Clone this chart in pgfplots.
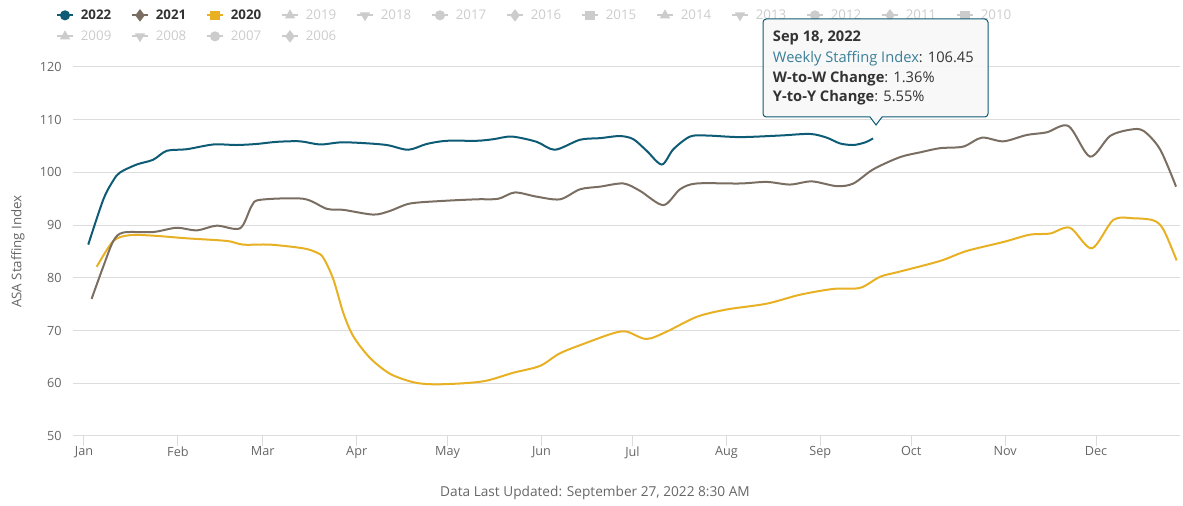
\documentclass[border=0pt]{standalone}
\usepackage{pgfplots}
\pgfplotsset{compat=1.18}
\usepackage{fontspec}
\setmainfont{Open Sans}
\definecolor{c22}{HTML}{0D5B74}
\definecolor{c21}{HTML}{7A6E62}
\definecolor{c20}{HTML}{E8B124}
\definecolor{inact}{HTML}{CCCCCC}
\definecolor{txt}{HTML}{666666}
\definecolor{dark}{HTML}{333333}
\definecolor{gridc}{HTML}{DCDCDC}
\definecolor{tipblue}{HTML}{3A7F97}
\begin{document}
\begin{tikzpicture}
\begin{scope}[x=0.75pt,y=0.75pt]
\useasboundingbox (0,0) rectangle (1183,506);
\end{scope}
\begin{axis}[
  at={(54.75pt,52.5pt)}, anchor=south west,
  scale only axis, width=830.25pt, height=276.75pt,
  xmin=-3.63, xmax=361.7, ymin=50, ymax=120,
  axis x line*=bottom, axis y line*=left,
  x axis line style={draw=gridc, line width=0.75pt, -},
  y axis line style={draw=none},
  xtick={0,31,59,90,120,151,181,212,243,273,304,334},
  xticklabels={Jan,Feb,Mar,Apr,May,Jun,Jul,Aug,Sep,Oct,Nov,Dec},
  ytick={50,60,70,80,90,100,110,120},
  ymajorgrids, grid style={draw=gridc, line width=0.75pt},
  tick align=outside, major tick length=7.5pt,
  xtick style={draw=gridc, line width=0.75pt},
  ytick style={draw=none},
  ticklabel style={font=\fontsize{9.5}{11}\selectfont, text=txt},
  xticklabel style={yshift=3pt},
  yticklabel style={xshift=2.5pt},
  /pgf/number format/assume math mode=true,
  ylabel={ASA Staffing Index},
  ylabel style={at={(axis description cs:-0.0497,0.5)}, anchor=center, font=\fontsize{10}{12}\selectfont, text=txt},
  clip=false,
  legend columns=13,
  legend cell align=left,
  legend image code/.code={\draw[mark repeat=2,mark phase=2,line width=1.5pt,#1] plot coordinates {(0pt,0pt) (6pt,0pt) (12pt,0pt)}; \path (15.7pt,0pt);},
  legend style={at={(axis description cs:-0.0156,1.166)}, anchor=north west, draw=none, fill=none, inner sep=0pt, row sep=1.75pt, column sep=0pt,
    nodes={inner sep=2pt, text height=8pt, text depth=2pt, text width=35.6pt, align=left, font=\fontsize{10}{12}\selectfont}},
]
\addplot[c20, line width=1.5pt, smooth, tension=0.5, mark=none, forget plot] coordinates {
(4.2,82.1)(9.7,87.0)(15.2,88.1)(22.9,88.0)(33.9,87.5)(47.1,87.0)(52.6,86.3)(61.4,86.3)(72.4,85.6)(76.8,84.8)(79.0,83.8)(82.3,79.7)(85.6,73.3)(88.9,68.9)(94.4,64.8)(101.0,61.8)(108.7,60.2)(115.3,59.8)(125.2,60.0)(132.9,60.5)(141.7,62.0)(150.5,63.3)(157.1,65.7)(165.9,67.7)(174.7,69.5)(179.1,69.8)(185.6,68.4)(192.3,69.8)(202.2,72.6)(212.1,74.0)(225.3,75.1)(236.3,76.8)(247.3,77.9)(256.1,78.1)(262.7,80.2)(269.3,81.2)(282.5,83.2)(291.3,85.1)(303.4,86.8)(312.2,88.2)(318.8,88.4)(325.4,89.5)(332.6,85.6)(339.7,91.0)(346.3,91.3)(352.9,90.9)(356.2,89.2)(360.6,83.3)};
\addplot[c21, line width=1.5pt, smooth, tension=0.5, mark=none, forget plot] coordinates {
(2.5,76.0)(6.4,82.2)(9.7,87.0)(13.0,88.6)(22.9,88.7)(30.6,89.5)(37.2,89.0)(43.8,89.9)(51.5,89.4)(55.3,93.6)(58.1,94.8)(72.4,95.0)(80.1,93.1)(85.6,92.9)(95.5,92.0)(101.0,92.7)(107.6,94.1)(118.6,94.6)(129.6,94.9)(136.7,95.0)(142.2,96.2)(149.4,95.4)(157.1,94.9)(163.7,96.8)(170.3,97.3)(178.0,97.9)(183.5,96.5)(191.2,93.8)(196.7,96.8)(202.2,97.9)(216.5,97.9)(225.3,98.2)(233.0,97.7)(240.2,98.3)(248.4,97.4)(253.9,97.9)(260.5,100.6)(269.3,102.9)(275.9,103.8)(282.5,104.6)(290.2,104.9)(296.3,106.6)(303.4,105.9)(311.1,107.1)(317.7,107.6)(324.9,108.8)(332.0,103.0)(338.6,106.9)(345.2,108.1)(349.6,107.9)(355.1,104.4)(360.4,97.3)};
\addplot[c22, line width=1.5pt, smooth, tension=0.5, mark=none, forget plot] coordinates {
(1.4,86.3)(6.4,94.9)(9.7,98.5)(11.9,100.0)(17.4,101.5)(22.8,102.4)(27.3,104.1)(33.9,104.4)(42.7,105.3)(50.4,105.2)(57.0,105.4)(63.6,105.8)(71.3,105.9)(77.9,105.3)(84.5,105.7)(91.1,105.6)(99.9,105.2)(107.0,104.3)(113.1,105.4)(119.7,106.0)(129.6,106.0)(135.1,106.3)(141.2,106.8)(149.4,105.8)(155.4,104.3)(163.7,106.2)(170.3,106.5)(176.9,106.9)(181.3,106.3)(185.7,104.1)(190.7,101.5)(194.5,104.4)(200.0,106.8)(205.5,107.0)(216.5,106.7)(229.7,107.0)(239.6,107.3)(245.1,106.6)(249.5,105.5)(253.9,105.2)(257.8,105.7)(260.4,106.45)};
\addlegendimage{c22, mark=*, mark size=3pt}\addlegendentry{\textcolor{dark}{\bfseries 2022}}
\addlegendimage{c21, mark=diamond*, mark size=3.5pt}\addlegendentry{\textcolor{dark}{\bfseries 2021}}
\addlegendimage{c20, mark=square*, mark size=2.8pt}\addlegendentry{\textcolor{dark}{\bfseries 2020}}
\addlegendimage{inact, mark=triangle*, mark size=3pt}\addlegendentry{\textcolor{inact}{2019}}
\addlegendimage{inact, mark=triangle*, mark size=3pt, mark options={rotate=180}}\addlegendentry{\textcolor{inact}{2018}}
\addlegendimage{inact, mark=*, mark size=3pt}\addlegendentry{\textcolor{inact}{2017}}
\addlegendimage{inact, mark=diamond*, mark size=3.5pt}\addlegendentry{\textcolor{inact}{2016}}
\addlegendimage{inact, mark=square*, mark size=2.8pt}\addlegendentry{\textcolor{inact}{2015}}
\addlegendimage{inact, mark=triangle*, mark size=3pt}\addlegendentry{\textcolor{inact}{2014}}
\addlegendimage{inact, mark=triangle*, mark size=3pt, mark options={rotate=180}}\addlegendentry{\textcolor{inact}{2013}}
\addlegendimage{inact, mark=*, mark size=3pt}\addlegendentry{\textcolor{inact}{2012}}
\addlegendimage{inact, mark=diamond*, mark size=3.5pt}\addlegendentry{\textcolor{inact}{2011}}
\addlegendimage{inact, mark=square*, mark size=2.8pt}\addlegendentry{\textcolor{inact}{2010}}
\addlegendimage{inact, mark=triangle*, mark size=3pt}\addlegendentry{\textcolor{inact}{2009}}
\addlegendimage{inact, mark=triangle*, mark size=3pt, mark options={rotate=180}}\addlegendentry{\textcolor{inact}{2008}}
\addlegendimage{inact, mark=*, mark size=3pt}\addlegendentry{\textcolor{inact}{2007}}
\addlegendimage{inact, mark=diamond*, mark size=3.5pt}\addlegendentry{\textcolor{inact}{2006}}
\end{axis}
\begin{scope}[x=0.75pt,y=0.75pt]
\filldraw[draw=c22, line width=0.75pt, fill=white!97!black, fill opacity=0.93]
  (876,381) -- (870,389) [rounded corners=2.5pt] -- (763,389) -- (763,487) -- (988,487) -- (988,389) [sharp corners] -- (882,389) -- cycle;
\begin{scope}[every node/.style={anchor=west, inner sep=0pt, font=\fontsize{11}{13}\selectfont}]
\node at (772.7,467.7) {\textcolor{dark}{\bfseries Sep 18, 2022}};
\node at (772.7,447.7) {\textcolor{tipblue}{Weekly Staffing Index}\textcolor{dark}{: 106.45}};
\node at (772.7,427.7) {\textcolor{dark}{\bfseries W-to-W Change}\textcolor{dark}{: 1.36\%}};
\node at (772.7,408.2) {\textcolor{dark}{\bfseries Y-to-Y Change}\textcolor{dark}{: 5.55\%}};
\end{scope}
\node[font=\fontsize{10.25}{12}\selectfont, text=txt] at (595,13) {Data Last Updated: September 27, 2022 8:30 AM};
\end{scope}
\end{tikzpicture}
\end{document}
